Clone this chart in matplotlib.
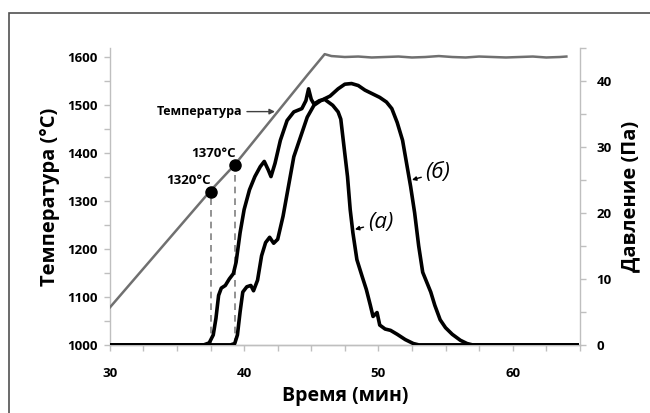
import matplotlib
matplotlib.use("Agg")
import matplotlib.pyplot as plt
from matplotlib.patches import Rectangle
from matplotlib.ticker import MultipleLocator

plt.rcParams['font.family'] = ['Open Sans', 'DejaVu Sans']

# temperature curve (left axis)
temp_time = [30, 37.5, 39.3, 44.7, 46.0, 46.5, 47.5, 48.5, 49.5, 50.5, 51.5, 52.5, 53.5,
             54.5, 55.5, 56.5, 57.5, 58.5, 59.5, 60.5, 61.5, 62.5, 63.5, 64.0]
temp_vals = [1078, 1322, 1376, 1563, 1607, 1603, 1601, 1602, 1600, 1601, 1602, 1600, 1601,
             1603, 1601, 1600, 1602, 1601, 1600, 1601, 1602, 1600, 1601, 1602]

# pressure curve (a)
a_time = [30, 37.0, 37.4, 37.7, 37.9, 38.1, 38.3, 38.6, 38.9, 39.2, 39.4, 39.7, 40.0, 40.4,
          40.8, 41.2, 41.5, 41.8, 42.0, 42.3, 42.7, 43.2, 43.7, 44.3, 44.6, 44.8, 45.0,
          45.2, 45.6, 46.0, 46.6, 47.0, 47.2, 47.4, 47.7, 47.9, 48.1, 48.4, 48.8, 49.1,
          49.4, 49.6, 49.9, 50.1, 50.5, 50.9, 51.4, 52.0, 52.6, 53.0, 64.8]
a_vals = [0, 0, 0.3, 1.5, 4, 7.5, 8.6, 9, 10, 10.8, 12.5, 17, 20.5, 23.5,
          25.5, 27, 27.8, 26.5, 25.5, 27.5, 31, 34, 35.3, 35.8, 37, 38.8, 37.2,
          36.5, 37, 37.2, 36.3, 35.3, 34.2, 30.7, 25.5, 20.5, 17, 12.9, 10.3, 8.4,
          6.0, 4.3, 4.9, 3.0, 2.4, 2.2, 1.6, 0.8, 0.2, 0, 0]

# pressure curve (б)
b_time = [30, 39.0, 39.3, 39.5, 39.7, 39.9, 40.2, 40.5, 40.7, 41.0, 41.3, 41.6, 41.9, 42.2,
          42.5, 42.9, 43.3, 43.7, 44.2, 44.7, 45.2, 45.7, 46.4, 47.0, 47.5, 48.0, 48.5,
          49.0, 49.6, 50.1, 50.6, 51.0, 51.4, 51.8, 52.1, 52.4, 52.7, 53.0, 53.3, 53.6,
          53.9, 54.2, 54.6, 55.0, 55.5, 56.1, 56.6, 57.0, 64.8]
b_vals = [0, 0, 0.2, 1.5, 5, 8, 8.8, 9, 8.2, 9.8, 13.5, 15.5, 16.3, 15.4,
          16, 19.5, 24, 28.5, 31.5, 34.5, 36.3, 37, 37.7, 38.8, 39.5, 39.6, 39.3,
          38.6, 38, 37.5, 36.8, 35.8, 33.7, 31, 27.5, 24, 20, 15, 11, 9.5,
          8, 6, 3.8, 2.6, 1.6, 0.7, 0.2, 0, 0]

# marked temperatures
mark_time = [37.5, 39.3]
mark_temp = [1320, 1375]
mark_labels = ['1320°C', '1370°C']

axis_gray = '#bfbfbf'

fig = plt.figure(figsize=(6.5, 4.13), dpi=100)
ax = fig.add_axes([0.169, 0.165, 0.723, 0.719])
ax2 = ax.twinx()

ax.plot(temp_time, temp_vals, color='#707070', lw=1.8, zorder=3)
for t, T in zip(mark_time, mark_temp):
    ax.plot([t, t], [1000, T], color='#808080', lw=1.2, ls=(0, (4, 3)), zorder=2)
ax.plot(mark_time, mark_temp, 'o', color='black', ms=8, zorder=4)
ax.text(mark_time[0] + 0.05, mark_temp[0] + 10, mark_labels[0], ha='right', va='bottom',
        fontsize=9.5, fontweight='bold')
ax.text(mark_time[1] + 0.05, mark_temp[1] + 10, mark_labels[1], ha='right', va='bottom',
        fontsize=9.5, fontweight='bold')
ax.annotate('Температура', xy=(42.3, 1487), xytext=(39.9, 1487), ha='right', va='center',
            fontsize=9, fontweight='bold',
            arrowprops=dict(arrowstyle='-|>', color='#404040', lw=1, mutation_scale=8,
                            shrinkA=1, shrinkB=0))

ax2.plot(a_time, a_vals, color='black', lw=2.6, zorder=3)
ax2.plot(b_time, b_vals, color='black', lw=2.6, zorder=3)
ax2.annotate('(a)', xy=(48.25, 17.5), xytext=(49.2, 18.5), ha='left', va='center',
             fontsize=16, fontstyle='italic',
             arrowprops=dict(arrowstyle='-|>', color='black', lw=1, mutation_scale=6,
                             shrinkA=1, shrinkB=0))
ax2.annotate('(б)', xy=(52.5, 25.0), xytext=(53.5, 26.1), ha='left', va='center',
             fontsize=16, fontstyle='italic',
             arrowprops=dict(arrowstyle='-|>', color='black', lw=1, mutation_scale=6,
                             shrinkA=1, shrinkB=0))

ax.set_xlim(30, 65)
ax.set_ylim(1000, 1620)
ax2.set_ylim(0, 45)

ax.xaxis.set_major_locator(MultipleLocator(10))
ax.xaxis.set_minor_locator(MultipleLocator(2.5))
ax.yaxis.set_major_locator(MultipleLocator(100))
ax.yaxis.set_minor_locator(MultipleLocator(50))
ax2.yaxis.set_major_locator(MultipleLocator(10))
ax2.yaxis.set_minor_locator(MultipleLocator(5))

for a in (ax, ax2):
    a.spines['top'].set_visible(False)
    for s in ('left', 'right', 'bottom'):
        a.spines[s].set_color(axis_gray)
        a.spines[s].set_linewidth(1)
    a.tick_params(which='both', direction='out', color=axis_gray, length=4, width=1,
                  labelsize=9.5)
ax2.spines['left'].set_visible(False)
ax.spines['right'].set_visible(False)

for lab in ax.get_xticklabels() + ax.get_yticklabels() + ax2.get_yticklabels():
    lab.set_fontweight('bold')
ax.tick_params(axis='x', pad=12)
ax.tick_params(axis='y', pad=5)
ax2.tick_params(axis='y', pad=8)

ax.set_xlabel('Время (мин)', fontsize=14, fontweight='bold', labelpad=4)
ax.set_ylabel('Температура (°C)', fontsize=14.5, fontweight='bold', labelpad=5)
ax2.set_ylabel('Давление (Па)', fontsize=14.5, fontweight='bold', labelpad=6)

fig.patches.append(Rectangle((9 / 650, -0.1), 1.2, 1 - 13 / 413 + 0.1,
                             transform=fig.transFigure, fill=False,
                             edgecolor='#505050', lw=1.2))

fig.savefig('out.png', dpi=100)
